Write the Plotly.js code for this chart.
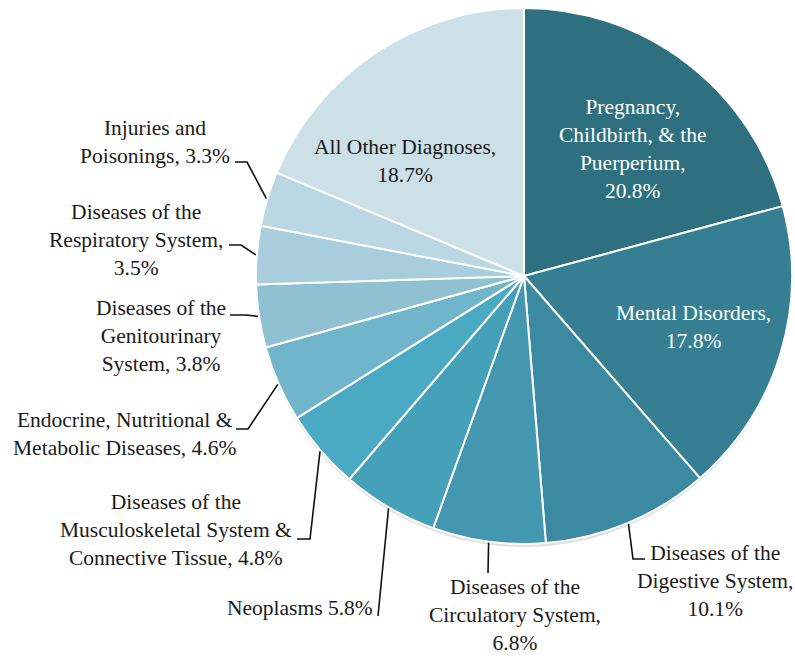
<!DOCTYPE html>
<html>
<head>
<meta charset="utf-8">
<script src="https://cdn.plot.ly/plotly-3.0.1.min.js"></script>
<style>
html,body{margin:0;padding:0;background:#fff;}
#chart{width:795px;height:656px;}
</style>
</head>
<body>
<div id="chart"></div>
<script>
// ---- data ----
const categories = [
  "Pregnancy, Childbirth, & the Puerperium",
  "Mental Disorders",
  "Diseases of the Digestive System",
  "Diseases of the Circulatory System",
  "Neoplasms",
  "Diseases of the Musculoskeletal System & Connective Tissue",
  "Endocrine, Nutritional & Metabolic Diseases",
  "Diseases of the Genitourinary System",
  "Diseases of the Respiratory System",
  "Injuries and Poisonings",
  "All Other Diagnoses"
];
const values = [20.8, 17.8, 10.1, 6.8, 5.8, 4.8, 4.6, 3.8, 3.5, 3.3, 18.7];
const labelTexts = [
  "Pregnancy,<br>Childbirth, & the<br>Puerperium,<br>20.8%",
  "Mental Disorders,<br>17.8%",
  "Diseases of the<br>Digestive System,<br>10.1%",
  "Diseases of the<br>Circulatory System,<br>6.8%",
  "Neoplasms 5.8%",
  "Diseases of the<br>Musculoskeletal System &<br>Connective Tissue, 4.8%",
  "Endocrine, Nutritional &<br>Metabolic Diseases, 4.6%",
  "Diseases of the<br>Genitourinary<br>System, 3.8%",
  "Diseases of the<br>Respiratory System,<br>3.5%",
  "Injuries and<br>Poisonings, 3.3%",
  "All Other Diagnoses,<br>18.7%"
];
const colors = ["#2E7080","#367F93","#3B8AA1","#4397B0","#45A0B9","#4AAAC3",
                "#70B5CA","#8FC1D3","#A8CEDD","#BAD7E3","#CCE0E8"];

// ---- layout geometry (pixels) ----
const W = 795, H = 656;
const cx = 524, cy = 276, R = 268;
const px = x => x / W, py = y => 1 - y / H;
const FONT = "Liberation Serif, Times New Roman, serif";

// label placements: centre of text block, and leader elbow/end points
const labelPos = [
  {x: 633, y: 149, color: "#ffffff"},
  {x: 693, y: 327, color: "#ffffff"},
  {x: 715, y: 581, color: "#1a1a1a", leader: [[633, 559], [645, 559]]},
  {x: 515, y: 615, color: "#1a1a1a", leader: [[488, 573]]},
  {x: 300, y: 608, color: "#1a1a1a", leader: [[378, 616]]},
  {x: 176, y: 530, color: "#1a1a1a", leader: [[310, 539], [297, 539]]},
  {x: 124, y: 434, color: "#1a1a1a", leader: [[248, 429], [236, 429]]},
  {x: 161, y: 336, color: "#1a1a1a", leader: [[246, 315], [230, 315]]},
  {x: 136, y: 240, color: "#1a1a1a", leader: [[241, 245], [229, 245]]},
  {x: 155, y: 142, color: "#1a1a1a", leader: [[247, 162], [235, 162]]},
  {x: 405, y: 161, color: "#1a1a1a"}
];

const total = values.reduce((a, b) => a + b, 0);
const annotations = [];
const shapes = [{
  type: "circle", layer: "below", xref: "paper", yref: "paper",
  x0: px(cx - R), x1: px(cx + R), y0: py(cy + R + 3), y1: py(cy - R + 2),
  fillcolor: "rgba(0,0,0,0.12)", line: {width: 0}
}];
let cum = 0;
values.forEach((v, i) => {
  const mid = (cum + v / 2) / total * 2 * Math.PI;
  cum += v;
  const p = labelPos[i];
  annotations.push({
    text: labelTexts[i], xref: "paper", yref: "paper",
    x: px(p.x), y: py(p.y), xanchor: "center", yanchor: "middle",
    showarrow: false, align: "center",
    font: {family: FONT, size: 21.5, color: p.color}
  });
  if (p.leader) {
    const sx = cx + (R + 1) * Math.sin(mid), sy = cy - (R + 1) * Math.cos(mid);
    let path = `M${px(sx)},${py(sy)}`;
    p.leader.forEach(pt => { path += ` L${px(pt[0])},${py(pt[1])}`; });
    shapes.push({type: "path", xref: "paper", yref: "paper", path: path,
                 line: {color: "#111", width: 1.6}});
  }
});

const trace = {
  type: "pie",
  labels: categories,
  values: values,
  sort: false,
  direction: "clockwise",
  rotation: 0,
  textinfo: "none",
  hoverinfo: "label+percent",
  marker: {colors: colors, line: {color: "#ffffff", width: 2}},
  domain: {x: [px(cx - R), px(cx + R)], y: [py(cy + R), py(cy - R)]},
  showlegend: false
};

const layout = {
  width: W, height: H,
  margin: {l: 0, r: 0, t: 0, b: 0},
  paper_bgcolor: "#ffffff",
  font: {family: FONT},
  showlegend: false,
  annotations: annotations,
  shapes: shapes
};

Plotly.newPlot("chart", [trace], layout, {displayModeBar: false, staticPlot: true});
</script>
</body>
</html>
